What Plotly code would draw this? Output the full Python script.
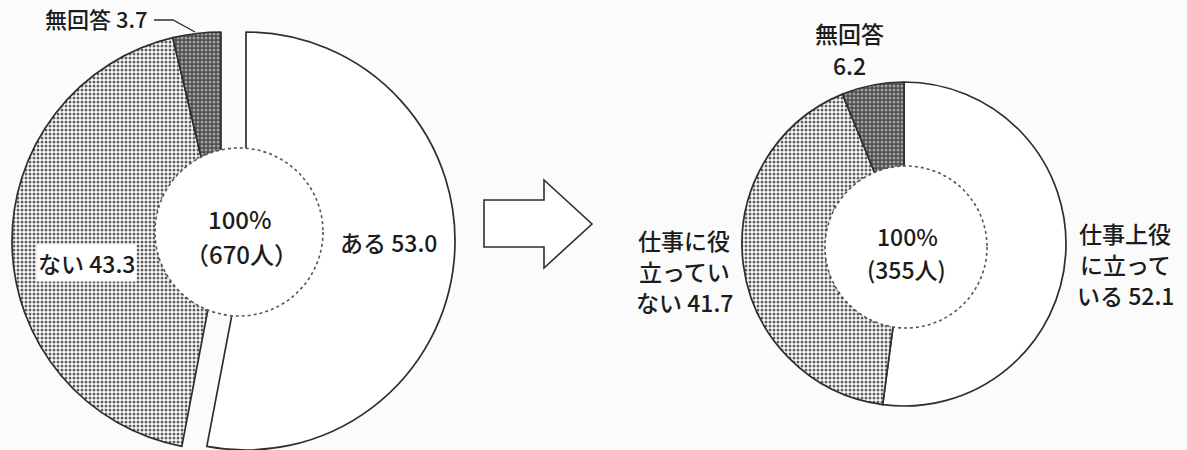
import plotly.graph_objects as go

# left chart: experience (n=670)
labels_left = ["ある", "ない", "無回答"]
values_left = [53.0, 43.3, 3.7]
total_left = "（670人）"

# right chart: usefulness (n=355)
labels_right = ["仕事上役に立っている", "仕事に役立っていない", "無回答"]
values_right = [52.1, 41.7, 6.2]
total_right = "(355人)"

W, H = 1187, 450
FONT = "Noto Sans CJK JP"
TXT = "#1c1c1c"
EDGE = "#2e2e2e"
CLEAR = "rgba(0,0,0,0)"

pat_bg = ["white", "white", "#4a4a4a"]
pat_fg = ["white", "#5e5e5e", "#a0a0a0"]


def dom(cx, cy, r):
    # pixel circle -> paper domain
    return dict(x=[(cx - r) / W, (cx + r) / W], y=[1 - (cy + r) / H, 1 - (cy - r) / H])


def pie(values, labels, domain, show):
    colors = [c if s else CLEAR for c, s in zip(pat_bg, show)]
    fgs = [c if s else CLEAR for c, s in zip(pat_fg, show)]
    shapes = ["", ".", "."]
    shapes = [sh if s else "" for sh, s in zip(shapes, show)]
    return go.Pie(
        values=values, labels=labels, domain=domain,
        sort=False, direction="clockwise", rotation=0,
        textinfo="none", hoverinfo="label+value", showlegend=False,
        marker=dict(
            colors=colors,
            line=dict(color=EDGE, width=[1.7 if s else 0 for s in show]),
            pattern=dict(shape=shapes, bgcolor=colors, fgcolor=fgs,
                         size=4, solidity=0.45),
        ),
    )


fig = go.Figure()

# left donut, "ある" slice pulled out to the right
fig.add_trace(pie(values_left, labels_left, dom(221, 241, 209), [False, True, True]))
fig.add_trace(pie(values_left, labels_left, dom(246, 241, 209), [True, False, False]))
# right donut
fig.add_trace(pie(values_right, labels_right, dom(904, 244, 162), [True, True, True]))
# empty trace so the pixel-space axes exist for shapes/labels
fig.add_trace(go.Scatter(x=[None], y=[None], showlegend=False, hoverinfo="skip"))

shapes = [
    # centre holes with dotted rim
    dict(type="circle", x0=239 - 84, x1=239 + 84, y0=232 - 84, y1=232 + 84,
         fillcolor="white", line=dict(color="#555", width=1.6, dash="dot"), layer="above"),
    dict(type="circle", x0=906 - 81, x1=906 + 81, y0=247 - 81, y1=247 + 81,
         fillcolor="white", line=dict(color="#555", width=1.6, dash="dot"), layer="above"),
    # block arrow
    dict(type="path", path="M 484 200 L 544 200 L 544 180 L 592 224 L 544 268 L 544 247 L 484 247 Z",
         fillcolor="white", line=dict(color=EDGE, width=1.6)),
    # leader for 無回答 3.7
    dict(type="path", path="M 154 20 L 173 20 L 195 32", line=dict(color=EDGE, width=1.3)),
]

ann = []


def txt(x, y, s, bg=None, size=23):
    a = dict(x=x, y=y, text=s, showarrow=False, xanchor="center", yanchor="middle",
             font=dict(family=FONT, size=size, color=TXT, weight=500))
    if bg:
        a["bgcolor"] = bg
    ann.append(a)


txt(96, 18, labels_left[2] + " " + str(values_left[2]), size=22)
txt(86, 263, labels_left[1] + " " + str(values_left[1]), bg="white")
txt(388, 242, labels_left[0] + " " + str(values_left[0]))
txt(240, 218, "100%", size=24)
txt(241, 253, total_left, size=24)

txt(849, 33, labels_right[2])
txt(849, 65, str(values_right[2]))
for i, line in enumerate(["仕事上役", "に立って", "いる " + str(values_right[0])]):
    txt(1125, 233 + i * 31, line)
for i, line in enumerate(["仕事に役", "立ってい", "ない " + str(values_right[1])]):
    txt(684, 240 + i * 31, line)
txt(907, 236, "100%", size=23)
txt(906, 269, total_right, size=23)

fig.update_layout(
    width=W, height=H,
    margin=dict(l=0, r=0, t=0, b=0),
    paper_bgcolor="#fbfbfb", plot_bgcolor="rgba(0,0,0,0)",
    xaxis=dict(range=[0, W], visible=False, fixedrange=True),
    yaxis=dict(range=[H, 0], visible=False, fixedrange=True),
    shapes=shapes, annotations=ann,
)

fig.write_html("out.html", config={"displayModeBar": False},
               post_script="document.body.style.margin='0';")
